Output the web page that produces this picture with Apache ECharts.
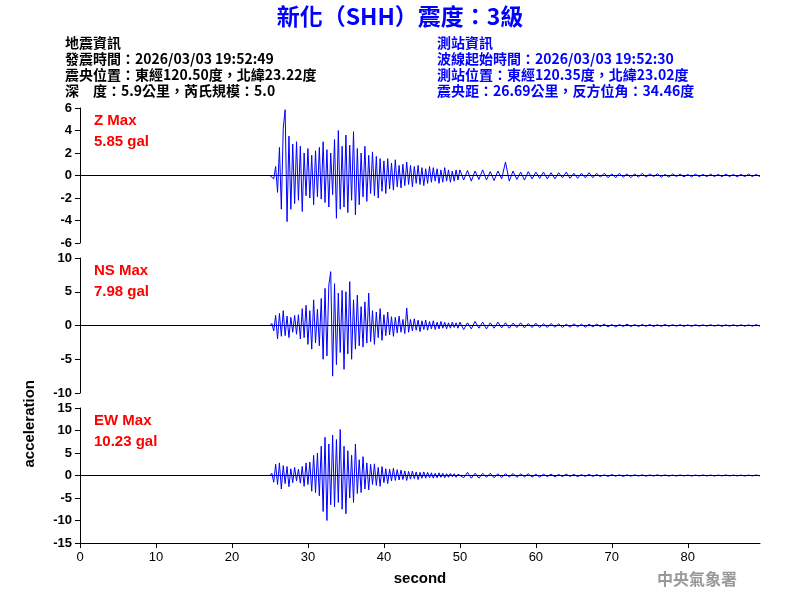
<!DOCTYPE html><html><head><meta charset="utf-8">
<script src="https://cdn.jsdelivr.net/npm/echarts@6/dist/echarts.min.js"></script>
<style>body{margin:0}#c{width:800px;height:600px}</style></head><body><div id="c"></div>
<script>
const xTicks=[0,10,20,30,40,50,60,70,80];
const startSec=25, headDt=0.25, tailDt=0.5;
const zHead=[0,0.1,-0.3,0.8,-1.5,2.5,-3.0,4.2,5.85,-4.1,3.5,-3.0,2.8,-2.5,3.0,-2.2,2.6,-3.2,2.0,-1.8,2.4,-2.0,1.8,-2.6,2.2,-1.9,2.5,-2.1,3.0,-2.4,2.3,-2.8,2.0,-1.7,3.2,-3.8,4.0,-3.0,2.6,-2.8,3.6,-3.3,2.7,-2.2,3.9,-3.5,2.4,-2.6,2.0,-1.9,2.6,-2.3,1.8,-1.6,2.1,-1.8,1.7,-2.0,1.5,-1.4,1.3,-1.6,1.5,-1.2,1.1,-1.3,1.4,-1.0,0.9,-1.1,1.0,-0.9,1.2,-0.8,0.9,-1.0,0.8,-0.7,0.9,-0.8,0.7,-0.9,0.6,-0.7,0.8,-0.6,0.7,-0.5,0.6,-0.7,0.5,-0.6,0.7,-0.5,0.5,-0.6,0.4,-0.5,0.5,-0.4];
const zTail=[0.5,-0.4,0.45,-0.5,0.4,-0.35,0.5,-0.4,0.35,-0.45,0.4,-0.3,1.2,-0.5,0.4,-0.35,0.3,-0.4,0.35,-0.3,0.3,-0.25,0.3,-0.3,0.25,-0.3,0.25,-0.2,0.3,-0.25,0.2,-0.25,0.2,-0.2,0.25,-0.2,0.2,-0.15,0.2,-0.2,0.15,-0.2,0.2,-0.15,0.15,-0.2,0.15,-0.15,0.2,-0.15,0.15,-0.1,0.15,-0.15,0.1,-0.15,0.15,-0.1,0.12,-0.12,0.1,-0.12,0.12,-0.1,0.1,-0.1,0.12,-0.1,0.1,-0.1,0.12,-0.1,0.1,-0.12,0.1,-0.1,0.12,-0.1,0.1,-0.1];
const nsHead=[0,0.3,-0.8,1.5,-2.0,1.8,-1.6,2.2,-1.5,1.4,-1.8,1.2,-1.0,1.5,-1.3,1.6,-2.0,2.5,-1.8,3.0,-2.8,2.2,-3.5,3.8,-2.6,2.4,-3.0,4.0,-5.0,5.5,-4.5,6.0,7.98,-7.5,6.2,-5.8,4.8,-4.0,5.2,-6.5,5.0,-4.2,6.5,-5.0,3.8,-3.5,4.5,-3.0,2.8,-3.2,3.5,-2.6,4.8,-2.4,2.2,-2.8,2.0,-1.8,2.5,-2.2,1.6,-1.5,2.0,-1.4,1.3,-1.6,1.2,-1.1,1.4,-1.0,0.9,-1.2,2.6,-1.0,0.9,-0.8,1.0,-0.7,0.8,-0.9,0.7,-0.6,0.8,-0.7,0.6,-0.5,0.7,-0.6,0.5,-0.5,0.6,-0.4,0.5,-0.5,0.4,-0.4,0.5,-0.3,0.4,-0.4];
const nsTail=[0.5,-0.6,0.4,-0.5,0.6,-0.4,0.5,-0.5,0.4,-0.4,0.5,-0.35,0.4,-0.4,0.35,-0.3,0.4,-0.35,0.3,-0.3,0.35,-0.3,0.25,-0.3,0.3,-0.25,0.25,-0.3,0.2,-0.25,0.25,-0.2,0.2,-0.25,0.2,-0.2,0.2,-0.15,0.2,-0.2,0.15,-0.2,0.15,-0.15,0.2,-0.15,0.15,-0.15,0.15,-0.12,0.15,-0.15,0.12,-0.12,0.15,-0.12,0.12,-0.1,0.12,-0.12,0.1,-0.12,0.12,-0.1,0.1,-0.1,0.12,-0.1,0.1,-0.12,0.1,-0.1,0.12,-0.1,0.1,-0.1,0.1,-0.1,0.12,-0.1];
const ewHead=[0,0.5,-1.5,2.5,-2.0,2.8,-3.0,2.2,-1.8,2.0,-2.5,1.5,-1.6,1.8,-1.2,1.4,-1.7,2.0,-2.4,2.8,-2.0,3.0,-3.5,4.5,-3.8,5.0,-4.5,6.5,-8.0,8.5,-10.0,7.0,-6.5,9.0,-7.0,8.0,-6.0,10.23,-7.5,6.5,-8.5,5.5,-5.0,4.5,-6.0,7.0,-4.0,3.5,-3.8,4.2,-3.0,2.8,-3.2,2.5,-2.0,2.6,-2.2,1.8,-2.4,2.0,-1.6,1.5,-1.8,1.4,-1.2,1.6,-1.1,1.3,-1.0,1.2,-0.9,1.0,-1.1,0.9,-0.8,1.0,-0.7,0.8,-0.9,0.7,-0.6,0.8,-0.6,0.7,-0.5,0.6,-0.6,0.5,-0.5,0.6,-0.4,0.5,-0.5,0.4,-0.4,0.5,-0.3,0.4,-0.4,0.3];
const ewTail=[0.6,-0.5,0.7,-0.6,0.5,-0.6,0.5,-0.4,0.5,-0.5,0.4,-0.45,0.4,-0.35,0.45,-0.4,0.35,-0.3,0.4,-0.35,0.3,-0.35,0.3,-0.25,0.3,-0.3,0.25,-0.25,0.3,-0.2,0.25,-0.25,0.2,-0.2,0.25,-0.2,0.2,-0.2,0.15,-0.2,0.2,-0.15,0.15,-0.2,0.15,-0.15,0.15,-0.12,0.15,-0.15,0.12,-0.12,0.15,-0.12,0.12,-0.12,0.1,-0.12,0.12,-0.1,0.1,-0.12,0.1,-0.1,0.12,-0.1,0.1,-0.12,0.1,-0.1,0.12,-0.1,0.1,-0.1,0.1,-0.12,0.1,-0.1,0.12,-0.1];
const labels=[["Z Max","5.85 gal"],["NS Max","7.98 gal"],["EW Max","10.23 gal"]];
const yRanges=[[-6,6,2],[-10,10,5],[-15,15,5]];
function build(head,tail){
  const d=[[0,0],[startSec,0]];
  head.forEach((v,i)=>d.push([startSec+i*headDt,v]));
  const t0=startSec+head.length*headDt;
  tail.forEach((v,i)=>{const t=t0+i*tailDt; if(t<=89.5) d.push([t,v]);});
  return d;
}
const traces=[build(zHead,zTail),build(nsHead,nsTail),build(ewHead,ewTail)];
const tops=[108,258,408];
const f="Arial, 'Liberation Sans', sans-serif";
const opt={animation:false,grid:[],xAxis:[],yAxis:[],series:[],graphic:[]};
traces.forEach((d,i)=>{
  opt.grid.push({left:80,width:680,top:tops[i],height:135});
  opt.xAxis.push({type:'value',gridIndex:i,min:0,max:89.5,
    axisLine:{show:i===2,onZero:false,lineStyle:{color:'#000'}},
    axisTick:{show:i===2,length:5,customValues:xTicks,lineStyle:{color:'#000'}},
    axisLabel:{show:i===2,customValues:xTicks,color:'#000',fontFamily:f,fontSize:13},splitLine:{show:false},
    name:i===2?'second':'',nameLocation:'middle',nameGap:28,nameTextStyle:{fontFamily:f,fontSize:15,fontWeight:'bold',color:'#000'}});
  const r=yRanges[i];
  opt.yAxis.push({type:'value',gridIndex:i,min:r[0],max:r[1],interval:r[2],
    axisLine:{show:true,lineStyle:{color:'#000'}},axisTick:{show:true,length:5,lineStyle:{color:'#000'}},
    axisLabel:{color:'#000',fontFamily:f,fontSize:13,fontWeight:'bold',margin:8},splitLine:{show:false}});
  opt.series.push({type:'line',xAxisIndex:i,yAxisIndex:i,data:d,showSymbol:false,
    lineStyle:{color:'#0000ff',width:1},
    markLine:{silent:true,symbol:'none',label:{show:false},lineStyle:{color:'#000',width:1,type:'solid'},data:[{yAxis:0}]}});
  opt.graphic.push({type:'text',left:94,top:tops[i]+2,style:{text:labels[i][0]+'\n'+labels[i][1],fill:'#ff0000',font:'bold 15px '+f,lineHeight:21}});
});
opt.graphic.push(
 {type:'text',left:'center',top:5,style:{text:'新化（SHH）震度：3級',fill:'#0000ff',font:'bold 23px "Noto Sans CJK TC", sans-serif'}},
 {type:'text',left:65,top:35,style:{text:'地震資訊\n發震時間：2026/03/03 19:52:49\n震央位置：東經120.50度，北緯23.22度\n深　度：5.9公里，芮氏規模：5.0',fill:'#000',font:'bold 14px "Noto Sans CJK TC", sans-serif',lineHeight:16}},
 {type:'text',left:437,top:35,style:{text:'測站資訊\n波線起始時間：2026/03/03 19:52:30\n測站位置：東經120.35度，北緯23.02度\n震央距：26.69公里，反方位角：34.46度',fill:'#0000ff',font:'bold 14px "Noto Sans CJK TC", sans-serif',lineHeight:16}},
 {type:'text',left:22,top:380,rotation:Math.PI/2,style:{text:'acceleration',fill:'#000',font:'bold 15px '+f}},
 {type:'text',left:657,top:571,style:{text:'中央氣象署',fill:'#999',font:'bold 16px "Noto Sans CJK TC", serif'}}
);
echarts.init(document.getElementById('c')).setOption(opt);
</script></body></html>
